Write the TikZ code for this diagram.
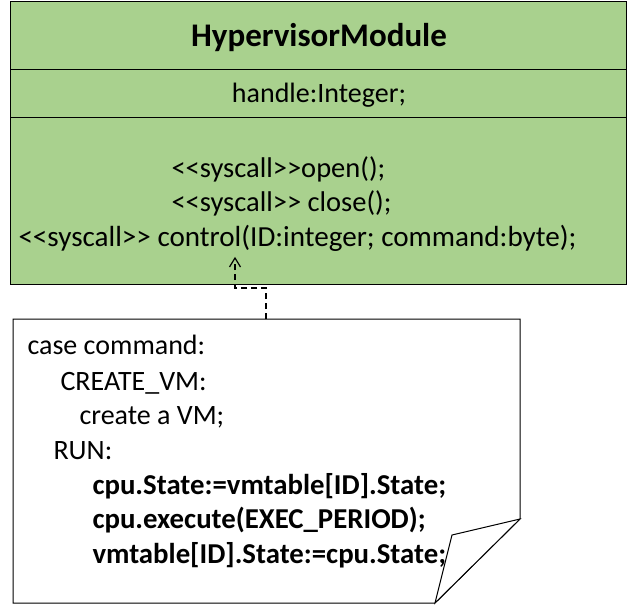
\documentclass[tikz,border=0pt]{standalone}
\usepackage{fontspec}
\newfontfamily\calfont{Carlito}
\usetikzlibrary{arrows.meta}
\definecolor{classgreen}{HTML}{A9D18E}
\begin{document}
\begin{tikzpicture}[x=1pt,y=-1pt,line width=1pt,
  txt/.style={inner sep=0pt,anchor=base west,font=\calfont\fontsize{28}{34}\selectfont},
  ctxt/.style={inner sep=0pt,anchor=base,font=\calfont\fontsize{28}{34}\selectfont},
  btxt/.style={inner sep=0pt,anchor=base west,font=\calfont\fontsize{28.8}{34}\selectfont\bfseries},
  dep/.style={dash pattern=on 6pt off 4pt,line width=1.2pt}]
\useasboundingbox (0,0) rectangle (628,604);
% class box
\node[draw,fill=classgreen,minimum width=616pt,minimum height=283pt,inner sep=0pt,anchor=north west] (cls) at (10,1) {};
\draw (10,70) -- (626,70);
\draw (10,118) -- (626,118);
\node[ctxt,font=\calfont\fontsize{33}{38}\selectfont\bfseries] (title) at (319,47) {HypervisorModule};
\node[ctxt] (attr) at (319,103) {handle:Integer;};
\node[txt,font=\calfont\fontsize{28.5}{34}\selectfont] (op1) at (171,177) {<<syscall>>open();};
\node[txt,font=\calfont\fontsize{28.5}{34}\selectfont] (op2) at (171,211) {<<syscall>> close();};
\node[txt,font=\calfont\fontsize{29.1}{34}\selectfont] (op3) at (18,246) {<<syscall>> control(ID:integer; command:byte);};
\coordinate (tip) at (235,258);
% note
\draw[fill=white] (13,319) -- (520,319) -- (520,519) -- (435,603) -- (13,603) -- cycle;
\draw[fill=white] (520,519) -- (452,535) -- (435,603) -- cycle;
\node[inner sep=0pt,minimum width=507pt,minimum height=284pt,anchor=north west] (note) at (13,319) {};
\coordinate (nt) at (266,319);
\node[txt] (l1) at (27,354) {case command:};
\node[txt] (l2) at (60,390) {CREATE\_VM:};
\node[txt] (l3) at (79,424) {create a VM;};
\node[txt] (l4) at (53,459) {RUN:};
\node[btxt] (l5) at (92,494) {cpu.State:=vmtable[ID].State;};
\node[btxt] (l6) at (92,528) {cpu.execute(EXEC\_PERIOD);};
\node[btxt] (l7) at (92,563) {vmtable[ID].State:=cpu.State;};
% dependency
\draw[dep] (nt) -- (nt |- 0,288) -- (tip |- 0,288) -- ([yshift=-3pt]tip);
\draw[line width=1.2pt] ([xshift=-5.5pt,yshift=-9pt]tip) -- (tip) -- ([xshift=5.5pt,yshift=-9pt]tip);
\end{tikzpicture}
\end{document}
